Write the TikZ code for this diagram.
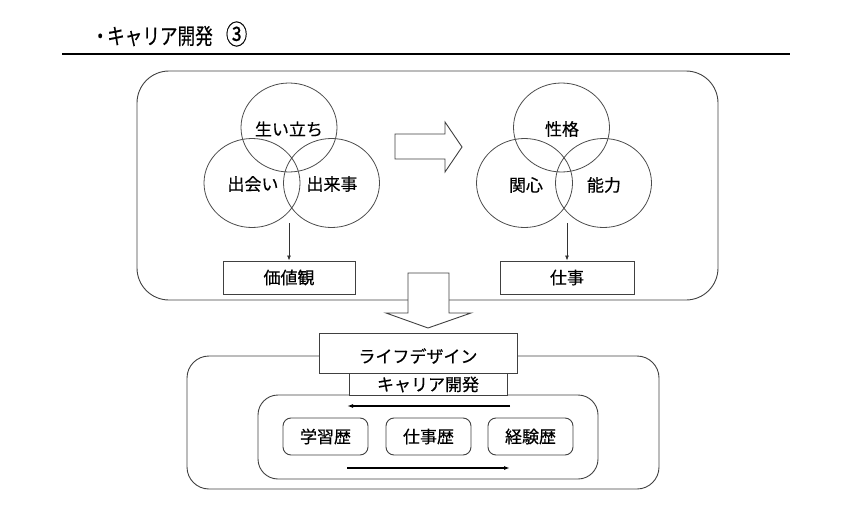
\documentclass[tikz,border=0pt]{standalone}
\usepackage{fontspec}
\setmainfont{Noto Sans CJK JP}[FakeBold=0.35]
\newfontfamily\titlefont{Noto Sans CJK JP}[FakeStretch=0.8,FakeBold=0.35]
\usetikzlibrary{arrows.meta}
\begin{document}
\begin{tikzpicture}[x=1pt,y=-1pt,
  ln/.style={draw=black!75,line width=0.9pt},
  circ/.style={ln,draw=black!70,line width=0.8pt},
  lbl/.style={font=\fontsize{17}{20}\selectfont,inner sep=0pt},
  rect/.style={ln,fill=white,minimum height=33pt,inner sep=0pt,font=\fontsize{17}{20}\selectfont},
  rbox/.style={ln,rounded corners=8pt,fill=white,inner sep=0pt,minimum width=85pt,minimum height=37pt,font=\fontsize{17}{20}\selectfont},
  thin arrow/.style={draw=black!80,line width=0.8pt,-{Latex[length=5pt,width=4pt]}},
  flow arrow/.style={draw=black,line width=1.2pt,-{Latex[length=6pt,width=4pt]}}
]
\useasboundingbox (0,0) rectangle (844,522);
% title
\node[anchor=west,inner sep=0pt,font=\titlefont\fontsize{22}{24}\selectfont] (title) at (93,34) {\makebox[14pt][c]{・}キャリア開発\hspace{13pt}{\fontsize{27}{24}\selectfont ③}};
\coordinate (rl) at (62,54);
\coordinate (rr) at (790,54);
\draw[line width=2.6pt] (rl) -- (rr);
% top box
\draw[ln,rounded corners=32pt] (137,71) rectangle (718,300);
% left venn
\draw[circ] (289,127.5) ellipse [x radius=48, y radius=44.5];
\draw[circ] (252,183) ellipse [x radius=48, y radius=44.5];
\draw[circ] (331.5,183) ellipse [x radius=48, y radius=44.5];
\node[lbl] (a1) at (289,129) {生い立ち};
\node[lbl] (a2) at (253,184) {出会い};
\node[lbl] (a3) at (332,184) {出来事};
\coordinate (la) at (289,223);
\node[rect,minimum width=132pt] (kachi) at (289,277.5) {価値観};
\draw[thin arrow] (la) -- (kachi.north);
% right venn
\draw[circ] (561.5,127.5) ellipse [x radius=48, y radius=44.5];
\draw[circ] (524.5,183) ellipse [x radius=48, y radius=44.5];
\draw[circ] (603.5,183) ellipse [x radius=48, y radius=44.5];
\node[lbl] (b1) at (562,129) {性格};
\node[lbl] (b2) at (526,185) {関心};
\node[lbl] (b3) at (604,185) {能力};
\coordinate (ra) at (567,223);
\node[rect,minimum width=134pt] (shigoto) at (567,277.5) {仕事};
\draw[thin arrow] (ra) -- (shigoto.north);
% right block arrow
\draw[ln,fill=white] (395,134) -- (445,134) -- (445,122) -- (462,147) -- (445,172) -- (445,159) -- (395,159) -- cycle;
% down block arrow
\draw[ln,fill=white] (408,273) -- (449,273) -- (449,313) -- (471,313) -- (428,328) -- (386,313) -- (408,313) -- cycle;
% bottom box
\draw[ln,rounded corners=22pt] (187,356) rectangle (659,489);
\node[ln,fill=white,minimum width=198pt,minimum height=40pt,inner sep=0pt] (life) at (418,353) {};
\node[lbl] (lifet) at (418,356) {ライフデザイン};
\draw[ln,rounded corners=20pt] (258,395) rectangle (598,479);
\node[ln,fill=white,minimum width=158pt,minimum height=22pt,inner sep=0pt,font=\fontsize{17}{20}\selectfont,anchor=north] (career) at (428,373) {キャリア開発};
% small boxes
\node[rbox] (g1) at (325.5,436.5) {学習歴};
\node[rbox] (g2) at (428.5,436.5) {仕事歴};
\node[rbox] (g3) at (530.5,436.5) {経験歴};
\coordinate (t1) at (510,406);
\coordinate (t2) at (347,406);
\coordinate (u1) at (347,468);
\coordinate (u2) at (510,468);
\draw[flow arrow] (t1) -- (t2);
\draw[flow arrow] (u1) -- (u2);
\end{tikzpicture}
\end{document}
